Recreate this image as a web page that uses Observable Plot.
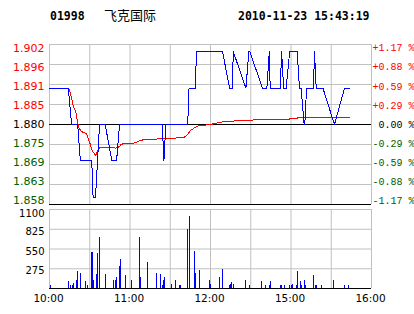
<!DOCTYPE html>
<html>
<head>
<meta charset="utf-8">
<script src="https://cdn.jsdelivr.net/npm/d3@7"></script>
<script src="https://cdn.jsdelivr.net/npm/@observablehq/plot@0.6"></script>
<style>
  html, body { margin: 0; padding: 0; background: #fff; }
  #wrap { position: relative; width: 414px; height: 314px; overflow: hidden; background: #fff; }
  .hdr { position: absolute; top: 10px; line-height: 12px; white-space: pre; color: #000; }
  .mono { font-family: "DejaVu Sans Mono", monospace; font-weight: bold; font-size: 11.5px; }
  .cjk { font-family: "Noto Sans CJK SC", sans-serif; font-size: 13px; top: 8px; line-height: 14px; }
</style>
</head>
<body>
<div id="wrap">
  <div class="hdr mono" id="code" style="left:50px"></div>
  <div class="hdr cjk" id="name" style="left:104px"></div>
  <div class="hdr mono" id="stamp" style="left:238px"></div>
</div>
<script>
// ---- header texts ----
const stockCode = "01998";
const stockName = "飞克国际";
const stampText = "2010-11-23 15:43:19";

// ---- axes (trading minutes since 10:00; 12:30 joins 14:30 at minute 150) ----
const gridTimes = [0, 30, 60, 90, 120, 150, 180, 210, 240];
const timeTicks = [0, 60, 120, 180, 240];
const timeLabels = ["10:00", "11:00", "12:00", "15:00", "16:00"];

const prevClose = 1.880;
const priceTicks = [1.902, 1.8965, 1.891, 1.8855, 1.880, 1.8745, 1.869, 1.8635, 1.858];
const priceLabels = ["1.902", "1.896", "1.891", "1.885", "1.880", "1.875", "1.869", "1.863", "1.858"];
const pctLabels = ["+1.17 %", "+0.88 %", "+0.59 %", "+0.29 %", " 0.00 %", "-0.29 %", "-0.59 %", "-0.88 %", "-1.17 %"];

const volTicks = [1100, 825, 550, 275];
const volLabels = ["1100", "825", "550", "275"];

// ---- price series (blue) ----
const priceT = [0, 14, 16.5, 21, 23, 31.5, 32.5, 34.3, 37.3, 41.5, 46.5, 50, 52.2, 84, 85.3, 86.7,
  103, 104, 108.6, 109.6, 129, 134.2, 136.2, 137, 146.4, 148.6, 149.3, 158.8, 162, 163.8, 164.5,
  172, 173, 174.5, 176.4, 179, 184.6, 186.3, 187.5, 189.8, 190.3, 191.6, 196.8, 197.5, 198.8,
  203.8, 212.4, 219.9, 223.4];
const priceV = [1.89, 1.89, 1.88, 1.88, 1.87, 1.87, 1.86, 1.86, 1.88, 1.88, 1.87, 1.87, 1.88, 1.88, 1.87, 1.88,
  1.88, 1.89, 1.89, 1.90, 1.90, 1.89, 1.89, 1.90, 1.89, 1.90, 1.90, 1.89, 1.89, 1.90, 1.89,
  1.89, 1.90, 1.89, 1.89, 1.90, 1.90, 1.89, 1.89, 1.88, 1.88, 1.89, 1.89, 1.90, 1.89,
  1.89, 1.88, 1.89, 1.89];

// ---- average price (red) ----
const avgT = [0, 14.2, 14.9, 15.7, 16.7, 17.6, 18.6, 19.6, 20.4, 21.1, 21.9, 22.9, 24.1, 25.6, 27.1, 28.1,
  29.1, 30.1, 31.1, 32.1, 33.1, 34.1, 34.6, 35.3, 36.5, 37.8, 40.3, 44, 46.5, 49, 51, 52.5, 53.4,
  56.4, 60.1, 62.6, 65.1, 67.6, 70.1, 72.5, 78.7, 81.3, 85, 90, 94.9, 98.7, 100.4, 102.4, 103.6,
  104.9, 106.1, 107.4, 108.6, 109.9, 111.1, 114.8, 117.3, 119.8, 123.5, 126, 128.5, 134.7, 139.6,
  149.6, 154.5, 168.2, 178.2, 179.5, 184.4, 185.7, 223.4];
const avgV = [1.89, 1.89, 1.8893, 1.8884, 1.8870, 1.8852, 1.8843, 1.8834, 1.8816, 1.8803, 1.8792, 1.8785,
  1.8780, 1.8778, 1.8776, 1.8771, 1.8758, 1.8749, 1.8735, 1.8726, 1.8722, 1.8717, 1.8715, 1.8723,
  1.8732, 1.8737, 1.8738, 1.8738, 1.8737, 1.8735, 1.8737, 1.8741, 1.8746, 1.8747, 1.8747, 1.8749,
  1.8752, 1.8756, 1.8758, 1.8759, 1.8759, 1.8761, 1.8762, 1.8762, 1.8763, 1.8763, 1.8765, 1.8771,
  1.8776, 1.8783, 1.8786, 1.8789, 1.8792, 1.8795, 1.8797, 1.8798, 1.8799, 1.8800, 1.8803, 1.8805,
  1.8807, 1.8809, 1.8810, 1.8811, 1.8814, 1.8814, 1.8814, 1.8816, 1.8817, 1.8820, 1.8820];

// ---- volume ----
const volT = [1, 14, 16, 17, 18, 20, 21, 23, 27, 28, 31, 32, 33, 35, 36, 37, 42, 48, 49, 50, 52, 53, 57, 61,
  67, 68, 73, 80, 83, 84, 85, 86, 91, 94, 97, 98, 103, 104, 108, 109, 112, 119, 120, 127, 129,
  134, 135, 136, 137, 146, 149, 158, 161, 164, 165, 172, 173, 175, 179, 180, 181, 184, 185, 187,
  188, 190, 191, 197, 198, 199, 203, 212, 220, 223];
const volV = [47, 103, 47, 47, 76, 117, 242, 214, 103, 47, 508, 508, 117, 200, 494, 708, 200, 117, 117, 158,
  312, 410, 186, 117, 708, 158, 368, 214, 200, 47, 117, 158, 55, 117, 47, 47, 816, 998, 522, 214,
  256, 117, 61, 158, 270, 47, 61, 89, 61, 117, 47, 103, 47, 47, 103, 47, 47, 47, 47, 47, 61, 47,
  242, 103, 47, 117, 47, 186, 47, 47, 47, 117, 47, 47];

// ---- build tables ----
const priceData = priceT.map((t, i) => ({t, p: priceV[i]}));
const avgData = avgT.map((t, i) => ({t, p: avgV[i]}));
const volData = volT.map((t, i) => ({t, v: volV[i]}));

const RED = "#ff0000", GREEN = "#006000", BLACK = "#000000", GRID = "#c0c0c0", BLUE = "#0000ff";
const tone = d => d > prevClose + 1e-9 ? RED : d < prevClose - 1e-9 ? GREEN : BLACK;
const squeeze = d => prevClose + (d - prevClose) * 0.955;

document.getElementById("code").textContent = stockCode;
document.getElementById("name").textContent = stockName;
document.getElementById("stamp").textContent = stampText;

const common = {
  width: 414, marginLeft: 49, marginRight: 43,
  x: {domain: [0, 240], axis: null},
  color: {type: "identity"},
  style: {background: "transparent", overflow: "visible"}
};

const pricePlot = Plot.plot({
  ...common,
  height: 176, marginTop: 9, marginBottom: 7,
  y: {domain: [1.858, 1.902], axis: null},
  marks: [
    Plot.ruleX(gridTimes, {stroke: GRID}),
    Plot.ruleY(priceTicks, {stroke: GRID}),
    Plot.ruleY([prevClose, 1.858], {stroke: BLACK}),
    Plot.line(avgData, {x: "t", y: "p", stroke: RED, strokeWidth: 1, shapeRendering: "crispEdges"}),
    Plot.line(priceData, {x: "t", y: "p", stroke: BLUE, strokeWidth: 1, shapeRendering: "crispEdges"}),
    Plot.text(priceTicks, {
      frameAnchor: "left", y: squeeze, text: (d, i) => priceLabels[i], fill: tone,
      textAnchor: "end", dx: -5, fontSize: 11, fontFamily: "DejaVu Sans"
    }),
    Plot.text(priceTicks, {
      frameAnchor: "right", y: squeeze, text: (d, i) => pctLabels[i], fill: tone,
      textAnchor: "start", dx: 1, fontSize: 10, fontFamily: "Liberation Mono", xmlSpace: "preserve"
    })
  ]
});

const volPlot = Plot.plot({
  ...common,
  height: 114, marginTop: 9, marginBottom: 26,
  y: {domain: [0, 1100], axis: null},
  marks: [
    Plot.ruleX(gridTimes, {stroke: GRID}),
    Plot.ruleY(volTicks, {stroke: GRID}),
    Plot.ruleX(volData, {x: "t", y1: 0, y2: "v", stroke: BLUE, strokeWidth: 1, shapeRendering: "crispEdges"}),
    Plot.ruleY([0], {stroke: BLACK}),
    Plot.text(volTicks.slice(0, 1), {
      frameAnchor: "left", y: d => d, text: (d, i) => volLabels[i], fill: BLACK,
      textAnchor: "end", dx: -5, dy: 4, fontSize: 10, fontFamily: "DejaVu Sans"
    }),
    Plot.text(volTicks.slice(1), {
      frameAnchor: "left", y: d => d, text: (d, i) => volLabels[i + 1], fill: BLACK,
      textAnchor: "end", dx: -5, dy: 2.5, fontSize: 10, fontFamily: "DejaVu Sans"
    }),
    Plot.text(timeTicks, {
      x: d => d, frameAnchor: "bottom", lineAnchor: "middle", text: (d, i) => timeLabels[i], fill: BLACK,
      dx: -1, dy: 10, fontSize: 10.5, fontFamily: "DejaVu Sans"
    })
  ]
});

for (const [el, top] of [[pricePlot, 35], [volPlot, 200]]) {
  el.style.position = "absolute";
  el.style.left = "0px";
  el.style.top = top + "px";
  el.style.maxWidth = "none";
  document.getElementById("wrap").appendChild(el);
}
</script>
</body>
</html>
